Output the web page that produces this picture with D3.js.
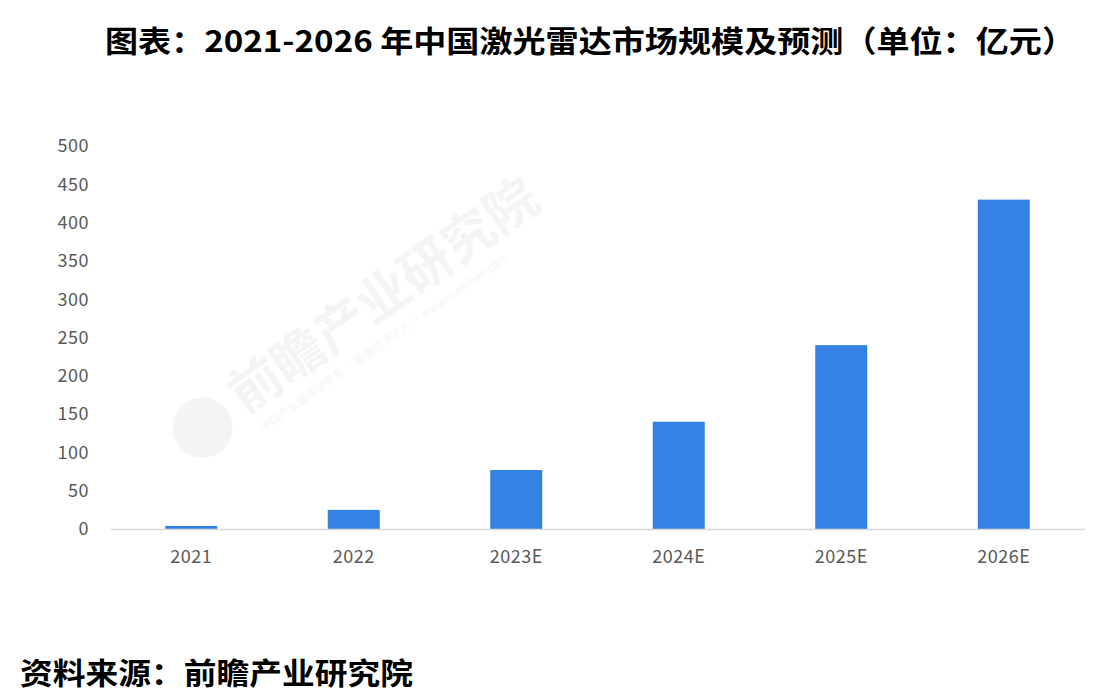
<!DOCTYPE html>
<html>
<head>
<meta charset="utf-8">
<script src="https://cdn.jsdelivr.net/npm/d3@7"></script>
<style>
  body { margin: 0; background: #fff; }
  svg { display: block; }
</style>
</head>
<body>
<svg id="chart"></svg>
<script>
// data
const years = ["2021", "2022", "2023E", "2024E", "2025E", "2026E"];
const values = [4, 25, 77, 140, 240, 430];
const yTicks = [0, 50, 100, 150, 200, 250, 300, 350, 400, 450, 500];
const titleText = "图表：2021-2026 年中国激光雷达市场规模及预测（单位：亿元）";
const sourceText = "资料来源：前瞻产业研究院";

const width = 1109, height = 695;
const margin = {top: 146, right: 24, bottom: 166, left: 110};

const svg = d3.select("#chart")
    .attr("width", width)
    .attr("height", height)
    .style("font-family", "'Noto Sans CJK SC', 'Noto Sans', sans-serif");

const x = d3.scaleBand()
    .domain(years)
    .range([margin.left, width - margin.right])
    .paddingInner(0.68)
    .paddingOuter(0.34);

const y = d3.scaleLinear()
    .domain([0, 500])
    .range([height - margin.bottom, margin.top]);

// faint watermark
const wm = svg.append("g")
    .attr("transform", "translate(245,415) rotate(-35)")
    .attr("fill", "#000")
    .attr("opacity", 0.04);
wm.append("circle").attr("cx", -42).attr("cy", -14).attr("r", 30);
wm.append("text")
    .attr("x", 0).attr("y", 0)
    .attr("font-size", 52).attr("font-weight", 700)
    .text("前瞻产业研究院");
wm.append("text")
    .attr("x", 6).attr("y", 24)
    .attr("font-size", 11)
    .text("中国产业咨询领导者 · 前瞻经济学人 · www.qianzhan.com");

// y axis (labels only)
svg.append("g")
    .selectAll("text")
    .data(yTicks)
    .join("text")
    .attr("x", 89)
    .attr("y", d => y(d))
    .attr("dy", "0.35em")
    .attr("text-anchor", "end")
    .attr("font-size", 18)
    .attr("letter-spacing", 0.5)
    .attr("fill", "#595959")
    .text(d => d);

// bars
svg.append("g")
    .selectAll("rect")
    .data(values)
    .join("rect")
    .attr("x", (d, i) => x(years[i]))
    .attr("width", x.bandwidth())
    .attr("y", d => y(d))
    .attr("height", d => y(0) - y(d))
    .attr("fill", "#3483e4");

// baseline
svg.append("line")
    .attr("x1", margin.left).attr("x2", width - margin.right)
    .attr("y1", y(0) + 0.5).attr("y2", y(0) + 0.5)
    .attr("stroke", "#d9d9d9")
    .attr("stroke-width", 1.5);

// x labels
svg.append("g")
    .selectAll("text")
    .data(years)
    .join("text")
    .attr("x", d => x(d) + x.bandwidth() / 2)
    .attr("y", y(0) + 34)
    .attr("text-anchor", "middle")
    .attr("font-size", 18)
    .attr("letter-spacing", 0.5)
    .attr("fill", "#595959")
    .text(d => d);

// title
svg.append("text")
    .attr("x", 105)
    .attr("y", 52)
    .attr("font-size", 30)
    .attr("font-weight", 700)
    .attr("fill", "#000")
    .attr("textLength", 970)
    .attr("lengthAdjust", "spacingAndGlyphs")
    .text(titleText);

// source
svg.append("text")
    .attr("x", 20)
    .attr("y", 684)
    .attr("font-size", 30)
    .attr("font-weight", 700)
    .attr("fill", "#000")
    .attr("textLength", 393)
    .attr("lengthAdjust", "spacingAndGlyphs")
    .text(sourceText);
</script>
</body>
</html>
